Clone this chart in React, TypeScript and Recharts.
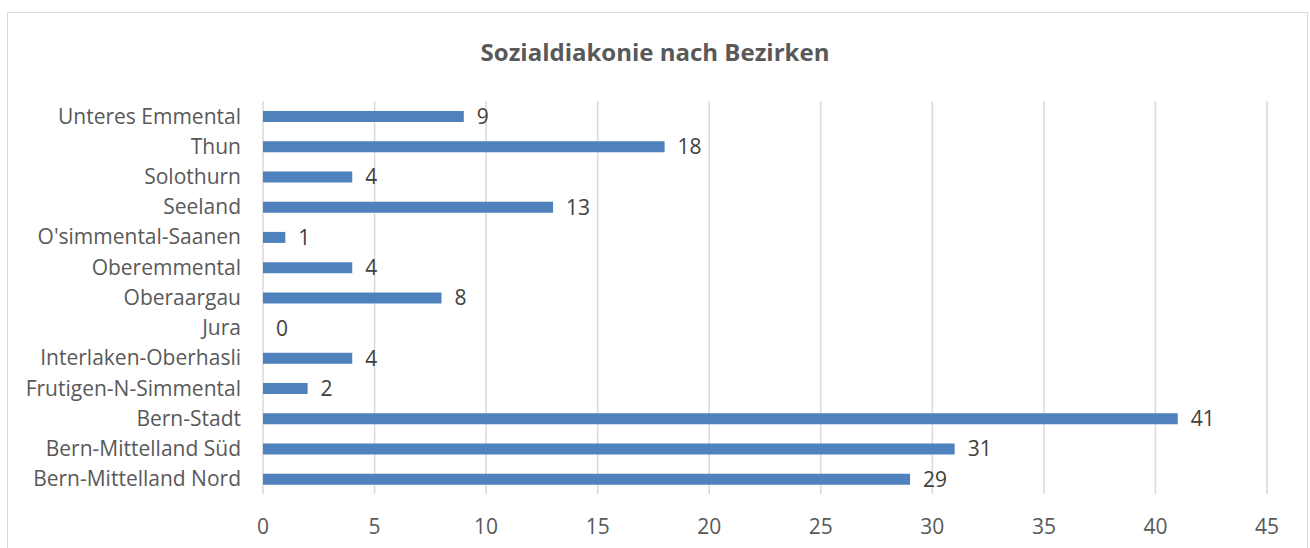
import { BarChart, Bar, XAxis, YAxis, CartesianGrid, LabelList } from "recharts";

const districts = [
  "Unteres Emmental",
  "Thun",
  "Solothurn",
  "Seeland",
  "O'simmental-Saanen",
  "Oberemmental",
  "Oberaargau",
  "Jura",
  "Interlaken-Oberhasli",
  "Frutigen-N-Simmental",
  "Bern-Stadt",
  "Bern-Mittelland Süd",
  "Bern-Mittelland Nord",
];

const counts = [9, 18, 4, 13, 1, 4, 8, 0, 4, 2, 41, 31, 29];

const xTicks = [0, 5, 10, 15, 20, 25, 30, 35, 40, 45];

const data = districts.map((name, i) => ({ name, value: counts[i] }));

const font = "'Open Sans', sans-serif";

// x axis tick, drawn a bit lower below the plot like the reference
function XTick(props: any) {
  const { x, y, payload } = props;
  return (
    <text x={x} y={y} dy={26} textAnchor="middle" fontSize={21} fill="#595959" fontFamily={font}>
      {payload.value}
    </text>
  );
}

export default function App() {
  return (
    <div style={{ position: "absolute", left: 0, top: 0, width: 1310, height: 548, background: "#fff", fontFamily: font }}>
      <div
        style={{
          position: "absolute",
          left: 7,
          top: 12,
          width: 1299,
          height: 560,
          border: "1px solid #d9d9d9",
        }}
      />
      <div
        style={{
          position: "absolute",
          left: 0,
          width: 1310,
          top: 35,
          textAlign: "center",
          fontSize: 24,
          fontWeight: 700,
          color: "#595959",
          lineHeight: "34px",
        }}
      >
        Sozialdiakonie nach Bezirken
      </div>
      <div style={{ position: "absolute", left: 0, top: 0 }}>
        <BarChart
          width={1310}
          height={548}
          data={data}
          layout="vertical"
          margin={{ top: 101, right: 43, bottom: 24, left: 0 }}
        >
          <CartesianGrid horizontal={false} stroke="#d9d9d9" strokeWidth={1.5} />
          <XAxis
            type="number"
            domain={[0, 45]}
            ticks={xTicks}
            axisLine={false}
            tickLine={false}
            height={30}
            tickMargin={8}
            tick={<XTick />}
          />
          <YAxis
            type="category"
            dataKey="name"
            width={263}
            axisLine={false}
            tickLine={false}
            tickMargin={16}
            interval={0}
            tick={{ fontSize: 21, fill: "#595959", fontFamily: font }}
          />
          <Bar dataKey="value" fill="#4f81bd" barSize={11} minPointSize={0.01} isAnimationActive={false}>
            <LabelList
              dataKey="value"
              position="right"
              offset={13}
              style={{ fontSize: 21, fill: "#404040", fontFamily: font }}
            />
          </Bar>
        </BarChart>
      </div>
    </div>
  );
}
